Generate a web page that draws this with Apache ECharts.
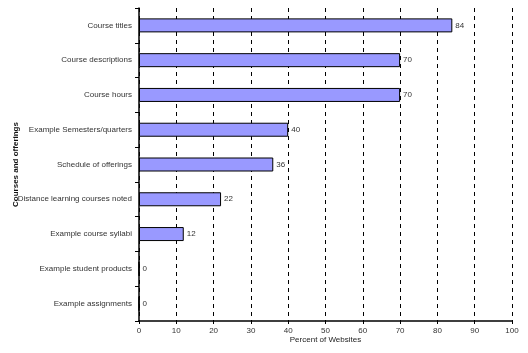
<!DOCTYPE html>
<html>
<head>
<meta charset="utf-8">
<title>chart</title>
<script src="https://cdn.jsdelivr.net/npm/echarts@6/dist/echarts.min.js"></script>
<style>
html, body { margin: 0; padding: 0; background: #fff; }
#main { width: 528px; height: 353px; }
</style>
</head>
<body>
<div id="main"></div>
<script type="text/javascript">
// categories top to bottom
var categories = ['Course titles', 'Course descriptions', 'Course hours', 'Example Semesters/quarters',
	'Schedule of offerings', 'Distance learning courses noted', 'Example course syllabi',
	'Example student products', 'Example assignments'];
var percents = [84, 70, 70, 40, 36, 22, 12, 0, 0];
var xTicks = [0, 10, 20, 30, 40, 50, 60, 70, 80, 90, 100];

var chart = echarts.init(document.getElementById('main'));
var font = 'Liberation Sans, Arial, sans-serif';

var option = {
	animation: false,
	backgroundColor: '#fff',
	grid: { left: 139, right: 16, top: 8, bottom: 32, containLabel: false, outerBoundsMode: 'none' },
	xAxis: {
		type: 'value',
		min: xTicks[0],
		max: xTicks[xTicks.length - 1],
		interval: 10,
		name: 'Percent of Websites',
		nameLocation: 'middle',
		nameGap: 15,
		nameMoveOverlap: false,
		nameTextStyle: { fontFamily: font, fontSize: 8, color: '#222' },
		axisLine: { show: true, lineStyle: { color: '#000', width: 1.5 } },
		axisTick: { show: true, length: 3, lineStyle: { color: '#000' } },
		axisLabel: { fontFamily: font, fontSize: 8, color: '#333', margin: 6 },
		splitLine: { show: true, lineStyle: { color: '#000', type: [4, 4], width: 1 } }
	},
	yAxis: {
		type: 'category',
		inverse: true,
		data: categories,
		name: 'Courses and offerings',
		nameLocation: 'middle',
		nameGap: 119,
		nameRotate: 90,
		nameMoveOverlap: false,
		nameTextStyle: { fontFamily: font, fontSize: 8, fontWeight: 'bold', color: '#111' },
		axisLine: { show: true, lineStyle: { color: '#000', width: 1.5 } },
		axisTick: { show: true, length: 4, lineStyle: { color: '#000' } },
		axisLabel: { fontFamily: font, fontSize: 8, color: '#333', margin: 7 },
		splitLine: { show: false }
	},
	series: [{
		type: 'bar',
		data: percents,
		barWidth: 14,
		itemStyle: { color: '#9999ff', borderColor: '#000', borderWidth: 1 },
		label: {
			show: true,
			position: 'right',
			distance: 3,
			fontFamily: font,
			fontSize: 8,
			color: '#333'
		}
	}]
};
chart.setOption(option);
</script>
</body>
</html>
